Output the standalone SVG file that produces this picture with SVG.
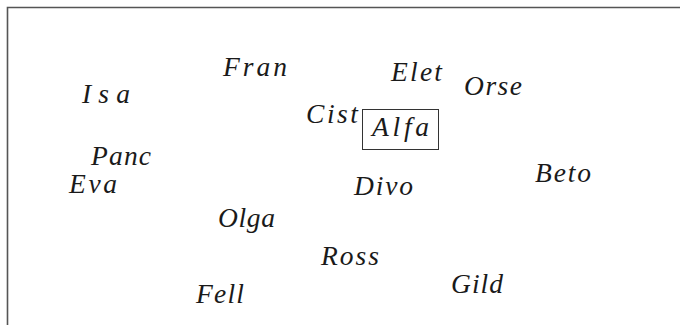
<svg xmlns="http://www.w3.org/2000/svg" width="680" height="325" viewBox="0 0 680 325">
<style>
  text { font-family: "Liberation Serif", "Times New Roman", serif; font-style: italic; font-size: 27.5px; fill: #1a1a1a; }
  .frame { stroke: #555; stroke-width: 1.6; fill: none; }
  .box { stroke: #333; stroke-width: 1; fill: none; }
</style>
<rect x="0" y="0" width="680" height="325" fill="#fff"/>
<path class="frame" d="M7.5 325 V7.5 H680"/>
<g id="connectors"></g>
<g id="fran"><text x="223" y="76" textLength="64" lengthAdjust="spacing">Fran</text></g>
<g id="isa"><text x="82" y="103" textLength="48" lengthAdjust="spacing">Isa</text></g>
<g id="elet"><text x="391" y="81" textLength="51" lengthAdjust="spacing">Elet</text></g>
<g id="orse"><text x="464" y="95" textLength="58" lengthAdjust="spacing">Orse</text></g>
<g id="cist"><text x="306" y="123" textLength="52" lengthAdjust="spacing">Cist</text></g>
<g id="alfa"><rect class="box" x="362.5" y="109.5" width="76" height="40"/><text x="372" y="136" textLength="57" lengthAdjust="spacing">Alfa</text></g>
<g id="panc"><text x="91" y="165" textLength="60" lengthAdjust="spacing">Panc</text></g>
<g id="eva"><text x="69" y="193" textLength="48" lengthAdjust="spacing">Eva</text></g>
<g id="divo"><text x="354" y="195" textLength="59" lengthAdjust="spacing">Divo</text></g>
<g id="beto"><text x="535" y="182" textLength="56" lengthAdjust="spacing">Beto</text></g>
<g id="olga"><text x="218" y="227" textLength="57" lengthAdjust="spacing">Olga</text></g>
<g id="ross"><text x="321" y="265" textLength="58" lengthAdjust="spacing">Ross</text></g>
<g id="gild"><text x="451" y="293" textLength="52" lengthAdjust="spacing">Gild</text></g>
<g id="fell"><text x="196" y="303" textLength="48" lengthAdjust="spacing">Fell</text></g>
</svg>
